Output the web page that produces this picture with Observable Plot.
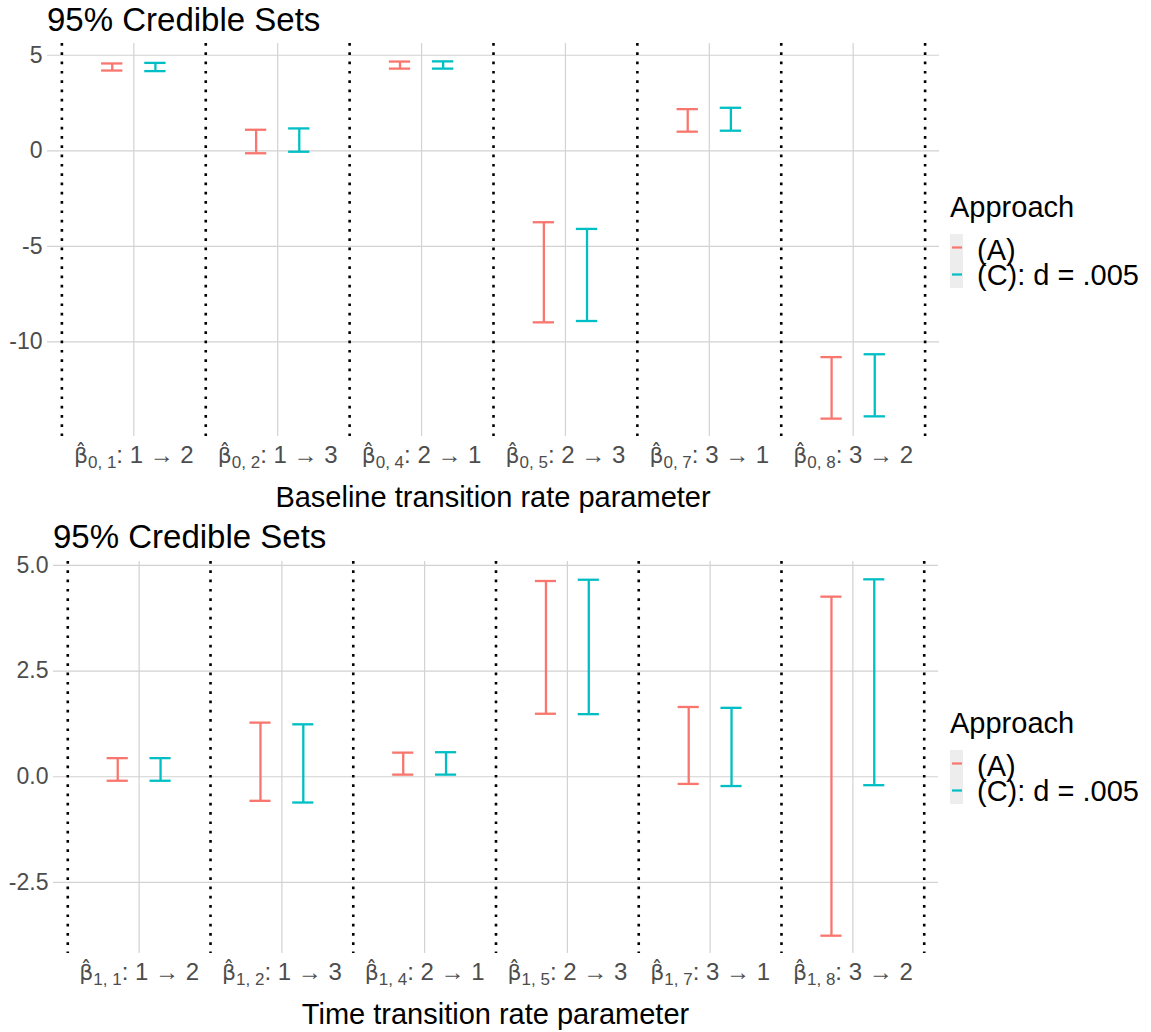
<!DOCTYPE html>
<html>
<head>
<meta charset="utf-8">
<script src="https://cdn.jsdelivr.net/npm/d3@7"></script>
<script src="https://cdn.jsdelivr.net/npm/@observablehq/plot@0.6"></script>
<style>
  body { margin: 0; background: #ffffff; }
  #chart { width: 1151px; }
  #chart svg { display: block; }
</style>
</head>
<body>
<div id="chart"></div>
<script>
// ---------- data ----------
const approaches = ["(A)", "(C): d = .005"];
const approachColors = ["#F8766D", "#00BFC4"];
const dodgeOffsets = [-0.15, 0.15];

const chartTitle = "95% Credible Sets";
const legendTitle = "Approach";

// Panel 1: baseline parameters
const baselineLabels = [
  "β̂_{0, 1}: 1 → 2", "β̂_{0, 2}: 1 → 3", "β̂_{0, 4}: 2 → 1",
  "β̂_{0, 5}: 2 → 3", "β̂_{0, 7}: 3 → 1", "β̂_{0, 8}: 3 → 2"
];
const baselineLowerA = [4.20, -0.13, 4.30, -8.98, 1.00, -14.02];
const baselineUpperA = [4.57, 1.10, 4.67, -3.74, 2.18, -10.80];
const baselineLowerC = [4.17, -0.05, 4.30, -8.91, 1.05, -13.90];
const baselineUpperC = [4.60, 1.17, 4.68, -4.09, 2.25, -10.65];
const baselineTicks = [-10, -5, 0, 5];
const baselineTickLabels = ["-10", "-5", "0", "5"];
const baselineAxisTitle = "Baseline transition rate parameter";

// Panel 2: time parameters
const timeLabels = [
  "β̂_{1, 1}: 1 → 2", "β̂_{1, 2}: 1 → 3", "β̂_{1, 4}: 2 → 1",
  "β̂_{1, 5}: 2 → 3", "β̂_{1, 7}: 3 → 1", "β̂_{1, 8}: 3 → 2"
];
const timeLowerA = [-0.095, -0.57, 0.05, 1.49, -0.17, -3.76];
const timeUpperA = [0.44, 1.28, 0.57, 4.63, 1.65, 4.26];
const timeLowerC = [-0.095, -0.61, 0.05, 1.48, -0.22, -0.20];
const timeUpperC = [0.44, 1.24, 0.58, 4.66, 1.63, 4.67];
const timeTicks = [-2.5, 0, 2.5, 5];
const timeTickLabels = ["-2.5", "0.0", "2.5", "5.0"];
const timeAxisTitle = "Time transition rate parameter";

// ---------- drawing ----------
const FONT = "'Liberation Sans', Arial, Helvetica, sans-serif";
const GRID = "#D2D2D2";
const W = 1151, H = 516;

function drawPanel(p) {
  const n = p.labels.length;
  const rows = [];
  p.labels.forEach((lab, i) => {
    approaches.forEach((a, j) => {
      rows.push({
        idx: i + 1,
        pos: i + 1 + dodgeOffsets[j],
        approach: a,
        lo: p.lower[j][i],
        hi: p.upper[j][i]
      });
    });
  });
  const lo = d3.min(rows, d => d.lo), hi = d3.max(rows, d => d.hi);
  const pad = (hi - lo) * 0.05;
  const idx = d3.range(1, n + 1);
  const seps = d3.range(0.5, n + 1, 1);
  const capHalf = 0.074;

  const svg = Plot.plot({
    width: W, height: H,
    marginTop: p.mt, marginBottom: p.mb, marginLeft: p.ml, marginRight: p.mr,
    style: { fontFamily: FONT, background: "white", overflow: "visible" },
    x: { domain: [0.4, n + 0.6], axis: null },
    y: { domain: [lo - pad, hi + pad], axis: null },
    color: { domain: approaches, range: approachColors },
    marks: [
      Plot.ruleY(p.ticks, { y: d => d, stroke: GRID, strokeWidth: 1.2 }),
      Plot.ruleX(idx, { x: d => d, stroke: GRID, strokeWidth: 1.2 }),
      Plot.ruleX(seps, { x: d => d, stroke: "black", strokeWidth: 2.6, strokeDasharray: "2.7 6.6" }),
      Plot.text(p.ticks, {
        y: d => d, frameAnchor: "left", text: (d, i) => p.tickLabels[i],
        textAnchor: "end", dx: -5, fontSize: 23, fill: "#4D4D4D"
      }),
      Plot.text(idx, {
        x: d => d, frameAnchor: "bottom", text: (d, i) => p.labels[i],
        dy: 26.6, fontSize: 24, fill: "#4D4D4D"
      }),
      Plot.ruleX(rows, { x: "pos", y1: "lo", y2: "hi", stroke: "approach", strokeWidth: 2.3 }),
      Plot.ruleY(rows, { y: "lo", x1: d => d.pos - capHalf, x2: d => d.pos + capHalf, stroke: "approach", strokeWidth: 2.3 }),
      Plot.ruleY(rows, { y: "hi", x1: d => d.pos - capHalf, x2: d => d.pos + capHalf, stroke: "approach", strokeWidth: 2.3 })
    ]
  });

  // subscripts in tick labels
  const ns = "http://www.w3.org/2000/svg";
  svg.querySelectorAll("text").forEach(t => {
    const m = /^(.*)_\{(.*)\}(.*)$/.exec(t.textContent);
    if (!m) return;
    t.textContent = "";
    const a = document.createElementNS(ns, "tspan");
    a.textContent = m[1];
    a.setAttribute("font-family", "'DejaVu Sans', sans-serif");
    a.setAttribute("font-size", 22);
    const b = document.createElementNS(ns, "tspan");
    b.textContent = m[2];
    b.setAttribute("font-size", 17);
    b.setAttribute("dy", 5);
    const c = document.createElementNS(ns, "tspan");
    c.textContent = m[3];
    c.setAttribute("dy", -5);
    t.append(a, b, c);
  });

  const s = d3.select(svg);
  // title
  s.append("text").attr("x", p.ml).attr("y", p.titleY).attr("text-anchor", "start")
    .attr("font-size", 33).attr("fill", "black").attr("font-family", FONT)
    .text(chartTitle);
  // axis title
  s.append("text").attr("x", p.ml + (W - p.ml - p.mr) / 2).attr("y", p.axisTitleY)
    .attr("text-anchor", "middle").attr("font-size", 29).attr("fill", "black").attr("font-family", FONT)
    .text(p.axisTitle);
  // legend
  const lg = s.append("g").attr("font-family", FONT).attr("text-anchor", "start");
  lg.append("text").attr("x", 950).attr("y", 217).attr("font-size", 29).attr("fill", "black").text(legendTitle);
  approaches.forEach((a, j) => {
    const ky = 234 + j * 27;
    lg.append("rect").attr("x", 950).attr("y", ky).attr("width", 13).attr("height", 27).attr("fill", "#EDEDED");
    lg.append("line").attr("x1", 952).attr("x2", 962).attr("y1", ky + 13.5).attr("y2", ky + 13.5)
      .attr("stroke", approachColors[j]).attr("stroke-width", 2.2);
  });
  approaches.forEach((a, j) => {
    lg.append("text").attr("x", 977).attr("y", 260 + j * 25).attr("font-size", 29).attr("fill", "black").text(a);
  });

  document.getElementById("chart").append(svg);
}

drawPanel({
  labels: baselineLabels,
  lower: [baselineLowerA, baselineLowerC],
  upper: [baselineUpperA, baselineUpperC],
  ticks: baselineTicks, tickLabels: baselineTickLabels,
  axisTitle: baselineAxisTitle,
  mt: 43, mb: 80, ml: 47, mr: 212,
  titleY: 31, axisTitleY: 507
});
drawPanel({
  labels: timeLabels,
  lower: [timeLowerA, timeLowerC],
  upper: [timeUpperA, timeUpperC],
  ticks: timeTicks, tickLabels: timeTickLabels,
  axisTitle: timeAxisTitle,
  mt: 45, mb: 79, ml: 53, mr: 213,
  titleY: 32, axisTitleY: 508
});
</script>
</body>
</html>
